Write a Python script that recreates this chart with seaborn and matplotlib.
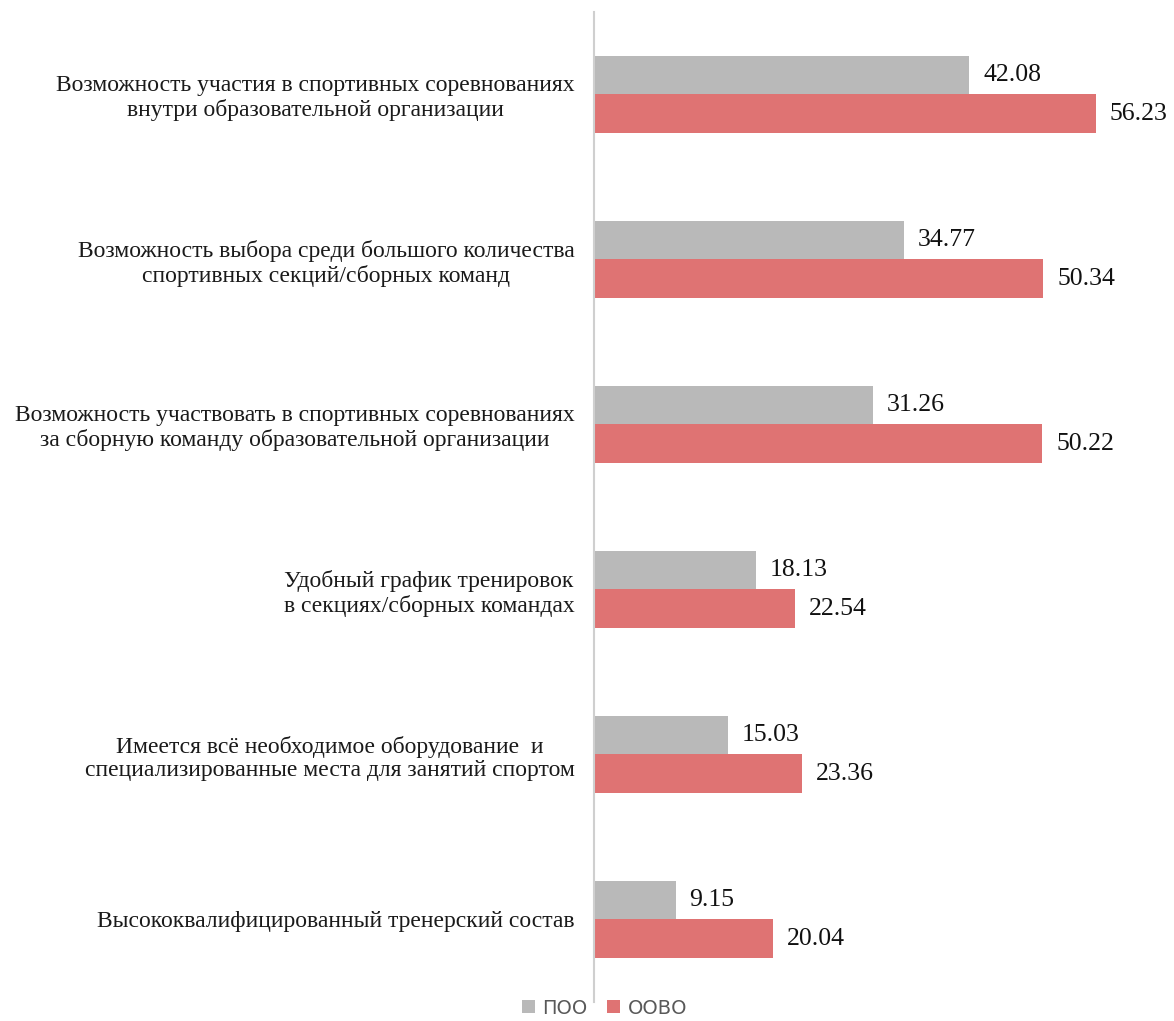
import matplotlib
matplotlib.use("Agg")
import matplotlib.pyplot as plt
import seaborn as sns
import pandas as pd

categories = [
    "Возможность участия в спортивных соревнованиях\nвнутри образовательной организации",
    "Возможность выбора среди большого количества\nспортивных секций/сборных команд",
    "Возможность участвовать в спортивных соревнованиях\nза сборную команду образовательной организации",
    "Удобный график тренировок\nв секциях/сборных командах",
    "Имеется всё необходимое оборудование  и\nспециализированные места для занятий спортом",
    "Высококвалифицированный тренерский состав",
]
series_names = ["ПОО", "ООВО"]
poo = [42.08, 34.77, 31.26, 18.13, 15.03, 9.15]
oovo = [56.23, 50.34, 50.22, 22.54, 23.36, 20.04]

df = pd.DataFrame({
    "category": categories * 2,
    "group": [series_names[0]] * len(categories) + [series_names[1]] * len(categories),
    "value": poo + oovo,
})

sns.set_theme(style="white")
plt.rcParams["font.family"] = ["Liberation Serif", "DejaVu Serif"]

fig = plt.figure(figsize=(11.74, 10.21), dpi=100)
ax = fig.add_axes([594 / 1174, 1 - 1002 / 1021, 1 - 594 / 1174, 990 / 1021])

palette = {"ПОО": "#B9B9B9", "ООВО": "#DF7373"}
sns.barplot(data=df, y="category", x="value", hue="group", order=categories,
            hue_order=series_names, palette=palette, orient="h", width=0.47,
            linewidth=0, saturation=1, ax=ax, legend=False)

for cont in ax.containers:
    ax.bar_label(cont, fmt="%.2f", padding=10, fontsize=18.5, color="#111111",
                 family="Liberation Serif")

ax.set_xlim(0, 65)
ax.set_ylim(5.5, -0.5)
ax.set_xlabel("")
ax.set_ylabel("")
ax.set_xticks([])
for s in ["top", "right", "bottom"]:
    ax.spines[s].set_visible(False)
ax.spines["left"].set_color("#CFCFCF")
ax.spines["left"].set_linewidth(1.5)
ax.tick_params(axis="y", length=0, pad=14)
for lbl in ax.get_yticklabels():
    lbl.set_fontsize(17)
    lbl.set_multialignment("center")
    lbl.set_linespacing(1.15)
    lbl.set_color("#1a1a1a")

from matplotlib.patches import Patch
handles = [Patch(facecolor=palette[n], edgecolor="none", label=n) for n in series_names]
fig.legend(handles=handles, loc="lower center", bbox_to_anchor=(0.515, -0.014), ncol=2,
           frameon=False, handlelength=0.65, handleheight=0.65, handletextpad=0.4,
           columnspacing=1.0, prop={"family": "DejaVu Sans", "size": 14},
           labelcolor="#595959")

fig.savefig("out.png", dpi=100)
